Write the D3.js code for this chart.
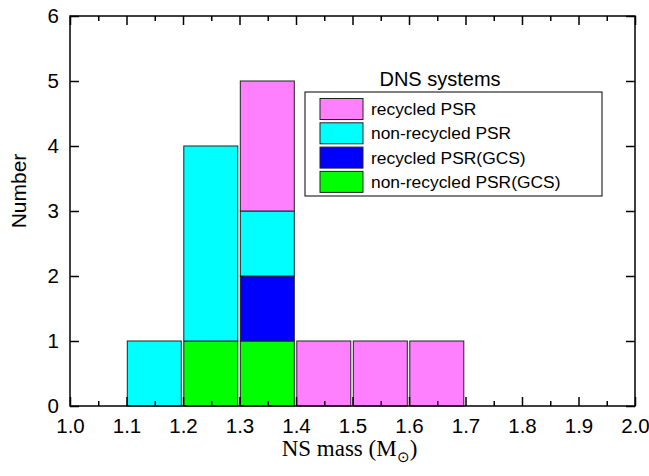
<!DOCTYPE html>
<html>
<head>
<meta charset="utf-8">
<script src="https://cdn.jsdelivr.net/npm/d3@7"></script>
<style>
  body { margin: 0; background: #fff; }
  svg { display: block; }
  .tick text { font-family: Arial, 'Liberation Sans', sans-serif; font-size: 20.5px; fill: #000; }
  .tick line { stroke: #000; stroke-width: 1.5; }
</style>
</head>
<body>
<div id="chart"><svg width="649" height="476"></svg></div>
<script>
// NS mass bins (left edges, width 0.1)
var binStarts = [1.1, 1.2, 1.3, 1.4, 1.5, 1.6];
var binWidth = 0.1;

// counts per bin
var recycled = [0, 0, 2, 1, 1, 1];
var nonRecycled = [1, 3, 1, 0, 0, 0];
var recycledGCS = [0, 0, 1, 0, 0, 0];
var nonRecycledGCS = [0, 1, 1, 0, 0, 0];

// stacking order from bottom, and legend order from top
var stackKeys = ['nonRecycledGCS', 'recycledGCS', 'nonRecycled', 'recycled'];
var legendKeys = ['recycled', 'nonRecycled', 'recycledGCS', 'nonRecycledGCS'];
var labels = {
  recycled: 'recycled PSR',
  nonRecycled: 'non-recycled PSR',
  recycledGCS: 'recycled PSR(GCS)',
  nonRecycledGCS: 'non-recycled PSR(GCS)'
};
var colors = {
  recycled: '#ff80ff',
  nonRecycled: '#00ffff',
  recycledGCS: '#0000ff',
  nonRecycledGCS: '#00ff00'
};

var xTicks = [1.0, 1.1, 1.2, 1.3, 1.4, 1.5, 1.6, 1.7, 1.8, 1.9, 2.0];
var xMinorTicks = [1.05, 1.15, 1.25, 1.35, 1.45, 1.55, 1.65, 1.75, 1.85, 1.95];
var yTicks = [0, 1, 2, 3, 4, 5, 6];

var table = binStarts.map(function(b, i) {
  return {
    bin: b,
    recycled: recycled[i],
    nonRecycled: nonRecycled[i],
    recycledGCS: recycledGCS[i],
    nonRecycledGCS: nonRecycledGCS[i]
  };
});

var margin = { top: 16, left: 70, bottom: 70, right: 14 };
var svg = d3.select('#chart > svg');
var width = +svg.attr('width') - margin.left - margin.right;
var height = +svg.attr('height') - margin.top - margin.bottom;

var group = svg.append('g')
  .attr('transform', 'translate(' + [margin.left, margin.top] + ')');

var xScale = d3.scaleLinear().domain([1.0, 2.0]).range([0, width]);
var yScale = d3.scaleLinear().domain([0, 6]).range([height, 0]);

// bars
var series = d3.stack().keys(stackKeys)(table);
group.append('g').attr('class', 'plot')
  .selectAll('g')
  .data(series)
  .enter()
  .append('g')
  .attr('fill', function(s) { return colors[s.key]; })
  .selectAll('rect')
  .data(function(s) { return s.filter(function(d) { return d[1] > d[0]; }); })
  .enter()
  .append('rect')
  .attr('x', function(d) { return xScale(d.data.bin) + 0.8; })
  .attr('width', function(d) { return xScale(d.data.bin + binWidth) - xScale(d.data.bin) - 2.5; })
  .attr('y', function(d) { return yScale(d[1]); })
  .attr('height', function(d) { return yScale(d[0]) - yScale(d[1]); })
  .attr('stroke', '#222')
  .attr('stroke-width', 1);

// axes (ticks inward)
function noDomain(g) { g.select('.domain').remove(); }

group.append('g')
  .attr('transform', 'translate(0,' + height + ')')
  .call(d3.axisBottom(xScale).tickValues(xTicks).tickFormat(d3.format('.1f'))
    .tickSizeInner(-9).tickSizeOuter(0).tickPadding(12))
  .call(noDomain);
group.append('g')
  .attr('transform', 'translate(0,' + height + ')')
  .call(d3.axisBottom(xScale).tickValues(xMinorTicks).tickFormat('')
    .tickSizeInner(-5).tickSizeOuter(0))
  .call(noDomain);
group.append('g')
  .call(d3.axisTop(xScale).tickValues(xTicks).tickFormat('')
    .tickSizeInner(-9).tickSizeOuter(0))
  .call(noDomain);
group.append('g')
  .call(d3.axisTop(xScale).tickValues(xMinorTicks).tickFormat('')
    .tickSizeInner(-5).tickSizeOuter(0))
  .call(noDomain);
group.append('g')
  .call(d3.axisLeft(yScale).tickValues(yTicks).tickFormat(d3.format('d'))
    .tickSizeInner(-9).tickSizeOuter(0).tickPadding(11))
  .call(noDomain);
group.append('g')
  .attr('transform', 'translate(' + width + ',0)')
  .call(d3.axisRight(yScale).tickValues(yTicks).tickFormat('')
    .tickSizeInner(-9).tickSizeOuter(0))
  .call(noDomain);

// frame
group.append('rect')
  .attr('width', width)
  .attr('height', height)
  .attr('fill', 'none')
  .attr('stroke', '#000')
  .attr('stroke-width', 1.5);

// axis titles
var xTitle = svg.append('text')
  .attr('x', margin.left + width / 2 - 3)
  .attr('y', 456)
  .attr('text-anchor', 'middle')
  .style('font-family', "'Liberation Serif', 'Times New Roman', serif")
  .style('font-size', '23px');
xTitle.append('tspan').text('NS mass (M');
xTitle.append('tspan').attr('dy', 6).style('font-size', '15px').text('\u2299');
xTitle.append('tspan').attr('dy', -6).text(')');

svg.append('text')
  .attr('transform', 'translate(26,191) rotate(-90)')
  .attr('text-anchor', 'middle')
  .style('font-family', "Arial, 'Liberation Sans', sans-serif")
  .style('font-size', '21px')
  .text('Number');

// legend
svg.append('text')
  .attr('x', 440)
  .attr('y', 86)
  .attr('text-anchor', 'middle')
  .style('font-family', "Arial, 'Liberation Sans', sans-serif")
  .style('font-size', '20px')
  .text('DNS systems');

var legend = svg.append('g').attr('transform', 'translate(305,92)');
legend.append('rect')
  .attr('width', 297)
  .attr('height', 104)
  .attr('fill', '#fff')
  .attr('stroke', '#000')
  .attr('stroke-width', 1);

var rows = legend.selectAll('.row')
  .data(legendKeys)
  .enter()
  .append('g')
  .attr('class', 'row')
  .attr('transform', function(d, i) { return 'translate(0,' + (6.5 + i * 24.3) + ')'; });
rows.append('rect')
  .attr('x', 15)
  .attr('width', 43)
  .attr('height', 21)
  .attr('fill', function(d) { return colors[d]; })
  .attr('stroke', '#222')
  .attr('stroke-width', 1);
rows.append('text')
  .attr('x', 66)
  .attr('y', 10.5)
  .attr('dy', '0.35em')
  .style('font-family', "Arial, 'Liberation Sans', sans-serif")
  .style('font-size', '17.4px')
  .text(function(d) { return labels[d]; });
</script>
</body>
</html>
